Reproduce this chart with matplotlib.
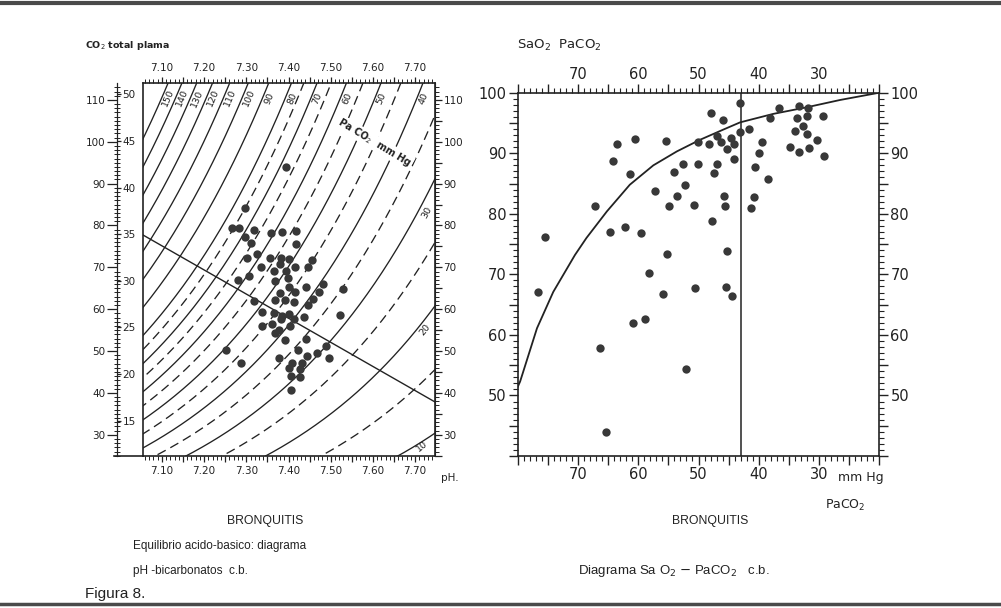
import matplotlib
matplotlib.use('Agg')
import matplotlib.pyplot as plt
import matplotlib.ticker as mticker
from matplotlib.lines import Line2D
import numpy as np

plt.rcParams['font.family'] = ['DejaVu Sans']
caption_font = ['Liberation Sans', 'DejaVu Sans']

# --- panel izquierdo: pH vs CO2 total (mmol/l) ---
ph_l = [7.395, 7.298, 7.267, 7.283, 7.318, 7.359, 7.384, 7.418, 7.298, 7.310,
        7.418, 7.302, 7.325, 7.357, 7.383, 7.402, 7.336, 7.365, 7.380, 7.393,
        7.416, 7.455, 7.447, 7.281, 7.306, 7.368, 7.399, 7.481, 7.473, 7.442,
        7.380, 7.401, 7.416, 7.459, 7.529, 7.318, 7.338, 7.368, 7.392, 7.414,
        7.445, 7.365, 7.384, 7.402, 7.437, 7.521, 7.337, 7.362, 7.382, 7.412,
        7.367, 7.378, 7.404, 7.391, 7.441, 7.253, 7.287, 7.377, 7.422, 7.444,
        7.467, 7.488, 7.495, 7.408, 7.433, 7.400, 7.427, 7.405, 7.428, 7.406]
co2_l = [42.2, 37.8, 35.7, 35.7, 35.5, 35.1, 35.2, 35.4, 34.7, 34.1,
         33.9, 32.4, 32.9, 32.5, 32.5, 32.3, 31.5, 31.1, 31.8, 31.1,
         31.5, 32.2, 31.5, 30.1, 30.5, 30.0, 30.3, 29.7, 28.8, 29.3,
         28.7, 29.3, 28.8, 28.1, 29.1, 27.8, 26.7, 27.9, 27.9, 27.7,
         27.4, 26.5, 26.2, 26.4, 26.1, 26.3, 25.1, 25.4, 25.9, 25.9,
         24.4, 24.7, 25.1, 23.6, 23.8, 22.6, 21.2, 21.7, 22.6, 21.9,
         22.3, 23.0, 21.7, 21.2, 21.2, 20.6, 20.5, 19.8, 19.7, 18.3]

# isopletas de PaCO2 (mm Hg)
pco2_solid = [10, 20, 30, 40, 50, 60, 70, 80, 90, 100, 110, 120, 130, 140, 150]
pco2_dash = [15, 25, 35, 45, 55, 65, 75]
pco2_top_labels = [150, 140, 130, 120, 110, 100, 90, 80, 70, 60, 50, 40]
pco2_side_labels = ['30', '20', '10']
side_label_ph = [7.728, 7.723, 7.715]
side_label_co2 = [37.3, 24.7, 12.2]
side_label_rot = [62, 52, 40]

# recta tampon
buffer_ph = [7.056, 7.747]
buffer_co2 = [34.9, 17.0]

# --- panel derecho: SaO2 vs PaCO2 ---
paco2_r = [63.6, 60.5, 55.4, 50.1, 64.2, 61.4, 54.1, 52.6, 50.1, 57.2,
           52.3, 53.5, 54.9, 50.7, 67.1, 75.4, 64.7, 62.2, 59.5, 55.2,
           43.1, 47.9, 45.9, 36.6, 33.3, 31.8, 38.1, 33.7, 32.0, 29.3,
           32.6, 34.0, 32.0, 30.4, 34.9, 33.3, 31.7, 29.2, 43.1, 41.6,
           47.0, 48.3, 46.2, 44.6, 44.1, 45.2, 39.5, 39.9, 44.1, 46.9,
           47.4, 40.6, 38.4, 45.8, 40.8, 45.6, 41.3, 47.8, 45.2, 58.2,
           76.6, 55.9, 50.6, 45.4, 44.4, 60.9, 58.8, 66.3, 52.0, 65.3]
sao2_r = [91.5, 92.3, 92.1, 91.8, 88.7, 86.6, 86.9, 88.2, 88.3, 83.8,
          84.8, 82.9, 81.3, 81.4, 81.3, 76.2, 77.0, 77.9, 76.8, 73.3,
          98.3, 96.6, 95.5, 97.4, 97.8, 97.5, 95.9, 95.9, 96.2, 96.1,
          94.5, 93.7, 93.1, 92.2, 91.0, 90.2, 90.8, 89.5, 93.5, 94.0,
          92.8, 91.5, 91.8, 92.6, 91.6, 90.7, 91.8, 90.1, 89.1, 88.2,
          86.7, 87.7, 85.8, 83.0, 82.8, 81.3, 80.9, 78.8, 73.8, 70.3,
          67.1, 66.8, 67.7, 67.9, 66.4, 62.0, 62.6, 57.8, 54.4, 44.0]
curve_p = [80.0, 79.6, 76.8, 74.1, 70.5, 68.6, 65.2, 61.4, 57.5, 53.6,
           49.8, 45.9, 43.1, 37.6, 32.0, 26.5, 20.0]
curve_s = [51.4, 52.3, 61.1, 67.1, 73.2, 76.0, 80.4, 84.8, 88.0, 90.3,
           92.2, 93.9, 95.1, 96.5, 97.6, 98.8, 100.0]
paco2_normal = 43

ink = '#222222'
dot = '#383838'
W, H = 1001, 608


def total_co2(p, ph):
    return 0.0301 * p * (1 + 10 ** (ph - 6.1))


def ph_at(p, tot):
    return 6.1 + np.log10(tot / (0.0301 * p) - 1)


def ph_fmt(v, pos):
    k = int(round(v * 100))
    return '%.2f' % v if k % 10 == 0 and 710 <= k <= 770 else ''


def tens_fmt(lo, hi):
    def f(v, pos):
        k = int(round(v))
        return str(k) if k % 10 == 0 and lo <= k <= hi else ''
    return mticker.FuncFormatter(f)


fig = plt.figure(figsize=(W / 100, H / 100), dpi=100)

# ================= panel izquierdo =================
axL = fig.add_axes([143.3 / W, 1 - 456 / H, 291.7 / W, 372.7 / H])
axL.set_xlim(7.056, 7.747)
axL.set_ylim(11.2, 51.2)
for s in axL.spines.values():
    s.set_color(ink)
    s.set_linewidth(1.2)

grid = np.linspace(6.9, 7.9, 400)
for p in pco2_solid:
    axL.plot(grid, total_co2(p, grid), color=ink, lw=0.95)
for p in pco2_dash:
    axL.plot(grid, total_co2(p, grid), color=ink, lw=0.95, ls=(0, (7, 4)))

for p in pco2_top_labels:
    axL.text(ph_at(p, 49.6) + 0.016, 49.6, str(p), rotation=67, fontsize=6.8,
             ha='center', va='center', color=ink)
for lab, x, y, r in zip(pco2_side_labels, side_label_ph, side_label_co2, side_label_rot):
    axL.text(x, y, lab, rotation=r, fontsize=6.8, ha='center', va='center', color=ink)
axL.text(7.605, 44.8, 'Pa CO$_2$  mm Hg', rotation=-31, fontsize=7, ha='center',
         va='center', color=ink, fontweight='bold',
         bbox=dict(fc='white', ec='none', pad=0.5))

axL.plot(buffer_ph, buffer_co2, color=ink, lw=1.0)
axL.scatter(ph_l, co2_l, s=36, color=dot, zorder=3, linewidths=0)

axL.xaxis.set_major_locator(mticker.MultipleLocator(0.05))
axL.xaxis.set_minor_locator(mticker.MultipleLocator(0.01))
axL.xaxis.set_major_formatter(mticker.FuncFormatter(ph_fmt))
axL.tick_params(axis='x', which='both', top=True, bottom=True, labeltop=True,
                labelbottom=True, direction='out', color=ink, labelsize=7.5,
                labelcolor=ink, pad=3)
axL.tick_params(axis='x', which='major', length=4.5, width=0.9)
axL.tick_params(axis='x', which='minor', length=2.6, width=0.7)
axL.tick_params(axis='y', left=False, labelleft=False)
axL.text(1.022, -0.06, 'pH.', transform=axL.transAxes, fontsize=7.5, color=ink,
         ha='left', va='center')

to_vol = (lambda m: m * 2.226, lambda v: v / 2.226)

secR = axL.secondary_yaxis('right', functions=to_vol)
secR.yaxis.set_major_locator(mticker.MultipleLocator(5))
secR.yaxis.set_minor_locator(mticker.MultipleLocator(1))
secR.yaxis.set_major_formatter(tens_fmt(30, 110))
secR.tick_params(which='both', direction='out', color=ink, labelsize=7.5,
                 labelcolor=ink, pad=1)
secR.tick_params(which='major', length=5, width=0.9)
secR.tick_params(which='minor', length=2.8, width=0.7)
secR.spines['right'].set_color(ink)

secO = axL.secondary_yaxis(-0.09, functions=to_vol)
secO.yaxis.set_major_locator(mticker.MultipleLocator(10))
secO.yaxis.set_minor_locator(mticker.MultipleLocator(1))
secO.yaxis.set_major_formatter(tens_fmt(30, 110))
secO.tick_params(which='major', direction='out', length=7.5, width=0.9, color=ink,
                 labelsize=7.5, labelcolor=ink, pad=1)
secO.tick_params(which='minor', direction='inout', length=4.5, width=0.7, color=ink)
secO.spines['left'].set_color(ink)

secI = axL.secondary_yaxis(-0.09)
secI.set_alignment('right')
secI.yaxis.set_major_locator(mticker.MultipleLocator(5))
secI.yaxis.set_major_formatter(mticker.FuncFormatter(
    lambda v, pos: str(int(round(v))) if 15 <= v <= 50 else ''))
secI.tick_params(which='major', direction='out', length=3, width=0.9, color=ink,
                 labelsize=7.5, labelcolor=ink, pad=1)
secI.spines['right'].set_color(ink)

axL.plot([-0.1, 0], [0, 0], transform=axL.transAxes, color=ink, lw=1.2, clip_on=False)

fig.text(85 / W, 1 - 45 / H, 'CO$_2$ total plama', fontsize=6.8, fontweight='bold',
         color=ink, ha='left', va='center')

# ================= panel derecho =================
axR = fig.add_axes([517.7 / W, 1 - 456 / H, 361.6 / W, 363.3 / H])
axR.set_xlim(80, 20)
axR.set_ylim(40, 100)
for s in axR.spines.values():
    s.set_color(ink)
    s.set_linewidth(1.2)

axR.plot(curve_p, curve_s, color=ink, lw=1.3)
axR.axvline(paco2_normal, color=ink, lw=1.1)
axR.scatter(paco2_r, sao2_r, s=36, color=dot, zorder=3, linewidths=0)

axR.xaxis.set_major_locator(mticker.MultipleLocator(5))
axR.xaxis.set_minor_locator(mticker.MultipleLocator(1))
axR.xaxis.set_major_formatter(tens_fmt(30, 70))
axR.yaxis.set_major_locator(mticker.MultipleLocator(5))
axR.yaxis.set_minor_locator(mticker.MultipleLocator(1))
axR.yaxis.set_major_formatter(tens_fmt(50, 100))
axR.tick_params(which='both', top=True, bottom=True, left=True, right=True,
                labeltop=True, labelbottom=True, labelleft=True, labelright=True,
                direction='out', color=ink, labelsize=10.5, labelcolor=ink, pad=1.5)
axR.tick_params(which='major', length=6.5, width=1.0)
axR.tick_params(which='minor', length=3.8, width=0.8)
axR.text(0.885, -0.06, 'mm Hg', transform=axR.transAxes, fontsize=9, color=ink,
         ha='left', va='center')
axR.text(0.905, -0.135, 'PaCO$_2$', transform=axR.transAxes, fontsize=9, color=ink,
         ha='center', va='center')

fig.text(517 / W, 1 - 45 / H, 'SaO$_2$  PaCO$_2$', fontsize=9.5, color=ink,
         ha='left', va='center')

# ================= textos =================
fig.text(265 / W, 1 - 521 / H, 'BRONQUITIS', fontsize=8.8, color=ink, ha='center',
         va='center', family=caption_font)
fig.text(133 / W, 1 - 546 / H, 'Equilibrio acido-basico: diagrama', fontsize=8.5,
         color=ink, ha='left', va='center', family=caption_font)
fig.text(133 / W, 1 - 571 / H, 'pH -bicarbonatos  c.b.', fontsize=8.5, color=ink,
         ha='left', va='center', family=caption_font)
fig.text(710 / W, 1 - 521 / H, 'BRONQUITIS', fontsize=8.8, color=ink, ha='center',
         va='center', family=caption_font)
fig.text(578 / W, 1 - 571 / H, 'Diagrama Sa O$_2$ $-$ PaCO$_2$   c.b.', fontsize=9.5,
         color=ink, ha='left', va='center', family=caption_font)
fig.text(85 / W, 1 - 594 / H, 'Figura 8.', fontsize=11, color=ink, ha='left',
         va='center', family=caption_font)

fig.add_artist(Line2D([0, 1], [1 - 2.5 / H] * 2, transform=fig.transFigure,
                      color='#4a4a4a', lw=3))
fig.add_artist(Line2D([0, 1], [4 / H] * 2, transform=fig.transFigure,
                      color='#4a4a4a', lw=2.5))

fig.savefig('out.png', dpi=100)
